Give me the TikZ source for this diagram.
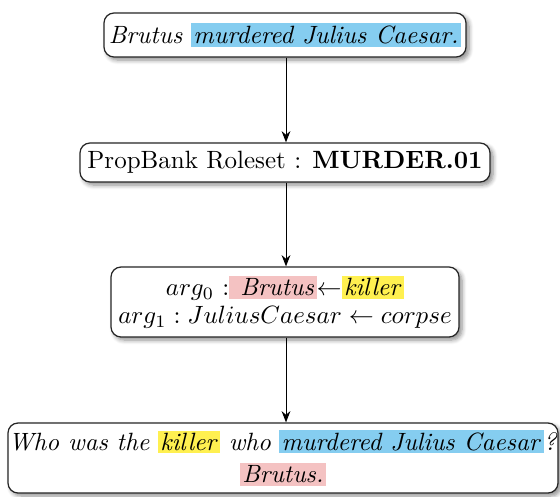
\documentclass[tikz,border=0pt]{standalone}
\usetikzlibrary{shadows.blur,arrows.meta}
\definecolor{hlblue}{RGB}{133,205,240}
\definecolor{hlyellow}{RGB}{255,240,80}
\definecolor{hlpink}{RGB}{244,194,194}
\newcommand\hlc[2]{{\setlength{\fboxsep}{1pt}\colorbox{#1}{#2}}}
\begin{document}
\begin{tikzpicture}[x=0.4pt,y=-0.4pt,
  box/.style={draw=black!85, line width=0.5pt, rounded corners=4pt, fill=white,
    align=center, inner sep=0pt,
    blur shadow={shadow xshift=1.2pt, shadow yshift=-1.2pt, shadow blur steps=6, shadow opacity=45}},
  conn/.style={-{Stealth[length=4.5pt,width=3.5pt]}, line width=0.4pt}]
\useasboundingbox (0,0) rectangle (560,496);
\node[box, minimum width=144.8pt, minimum height=17.6pt] (b1) at (285,35)
  {\textit{Brutus} \hlc{hlblue}{\textit{murdered Julius Caesar.}}};
\node[box, minimum width=164pt, minimum height=15.6pt] (b2) at (285,162.5)
  {PropBank Roleset : \textbf{MURDER.01}};
\node[box, minimum width=139.2pt, minimum height=28pt] (b3) at (285,302)
  {$arg_0$ :\hlc{hlpink}{\ \textit{Brutus}}$\leftarrow$\hlc{hlyellow}{\textit{killer}}\\[-1pt]
   $arg_1 : JuliusCaesar \leftarrow corpse$};
\node[box, minimum width=220pt, minimum height=28pt] (b4) at (283,458)
  {\textit{Who was the} \hlc{hlyellow}{\textit{killer}} \textit{who} \hlc{hlblue}{\textit{murdered Julius Caesar}}\textit{?}\\[1pt]
   \hlc{hlpink}{\textit{Brutus.}}};
\draw[conn] (b1.south -| 286,0) -- (b2.north -| 286,0);
\draw[conn] (b2.south -| 286,0) -- (b3.north -| 286,0);
\draw[conn] (b3.south -| 286,0) -- (b4.north -| 286,0);
\end{tikzpicture}
\end{document}
